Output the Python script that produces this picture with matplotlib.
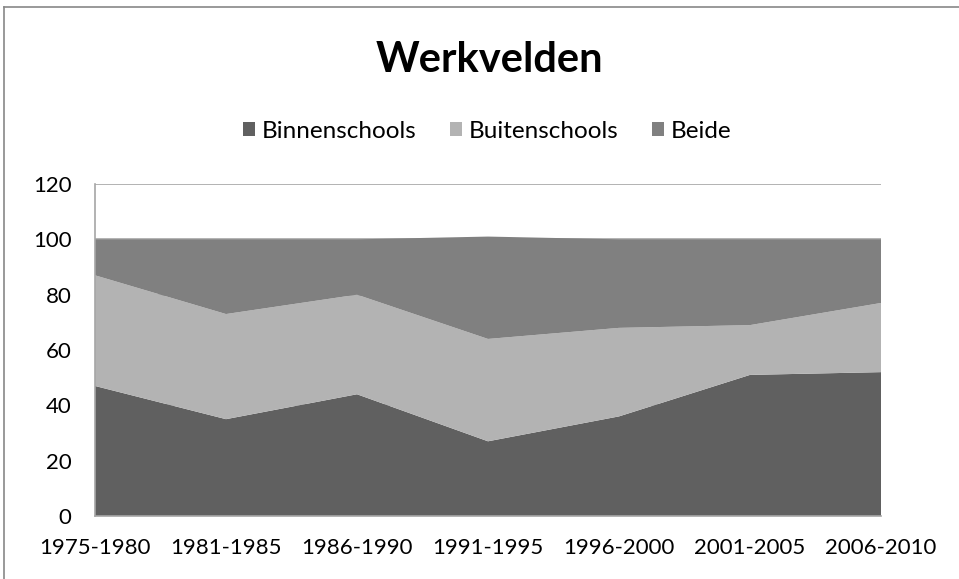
import matplotlib
matplotlib.use("Agg")
import matplotlib.pyplot as plt
from matplotlib.patches import Patch
from matplotlib.lines import Line2D

plt.rcParams['font.family'] = ['Lato', 'DejaVu Sans']

periods = ["1975-1980", "1981-1985", "1986-1990", "1991-1995",
           "1996-2000", "2001-2005", "2006-2010"]
binnenschools = [47, 35, 44, 27, 36, 51, 52]
buitenschools = [40, 38, 36, 37, 32, 18, 25]
beide = [13, 27, 20, 37, 32, 31, 23]

series_names = ["Binnenschools", "Buitenschools", "Beide"]
colors = ["#606060", "#b3b3b3", "#808080"]

fig = plt.figure(figsize=(9.59, 5.79), dpi=100)
ax = fig.add_axes([95 / 959, 1 - 516 / 579, (881 - 95) / 959, (516 - 184) / 579])

x = list(range(len(periods)))
ax.stackplot(x, binnenschools, buitenschools, beide, colors=colors,
             labels=series_names, linewidth=0, zorder=2)

ax.set_xlim(0, len(periods) - 1)
ax.set_ylim(0, 120)
ax.set_yticks(range(0, 121, 20))
ax.set_xticks(x)
ax.set_xticklabels(periods)
ax.tick_params(axis='both', length=0, labelsize=16, colors='black')
ax.tick_params(axis='x', pad=16)
ax.tick_params(axis='y', pad=17)
ax.yaxis.grid(True, color='#a6a6a6', linewidth=1.2, zorder=1)
ax.set_axisbelow(True)

for side in ['top', 'right']:
    ax.spines[side].set_visible(False)
ax.spines['left'].set_color('#a6a6a6')
ax.spines['bottom'].set_color('#a6a6a6')
ax.spines['left'].set_linewidth(1.2)
ax.spines['bottom'].set_linewidth(1.2)

fig.text(489 / 959, 1 - 60 / 579, "Werkvelden", ha='center', va='center',
         fontsize=30, fontweight='bold')

handles = [Patch(facecolor=c, edgecolor='none') for c in colors]
fig.legend(handles, series_names, loc='center', ncol=3,
           bbox_to_anchor=(487 / 959, 1 - 131 / 579), frameon=False, fontsize=17.5,
           handlelength=0.5, handleheight=0.5, handletextpad=0.25,
           columnspacing=1.4)

# outer chart frame (only left and top edges are visible in the crop)
fig.add_artist(Line2D([4 / 959, 4 / 959], [0, 1 - 7 / 579], color='#888888',
                      linewidth=1.2, transform=fig.transFigure))
fig.add_artist(Line2D([4 / 959, 1], [1 - 7 / 579, 1 - 7 / 579], color='#888888',
                      linewidth=1.2, transform=fig.transFigure))

fig.savefig("out.png", dpi=100, facecolor='white')
